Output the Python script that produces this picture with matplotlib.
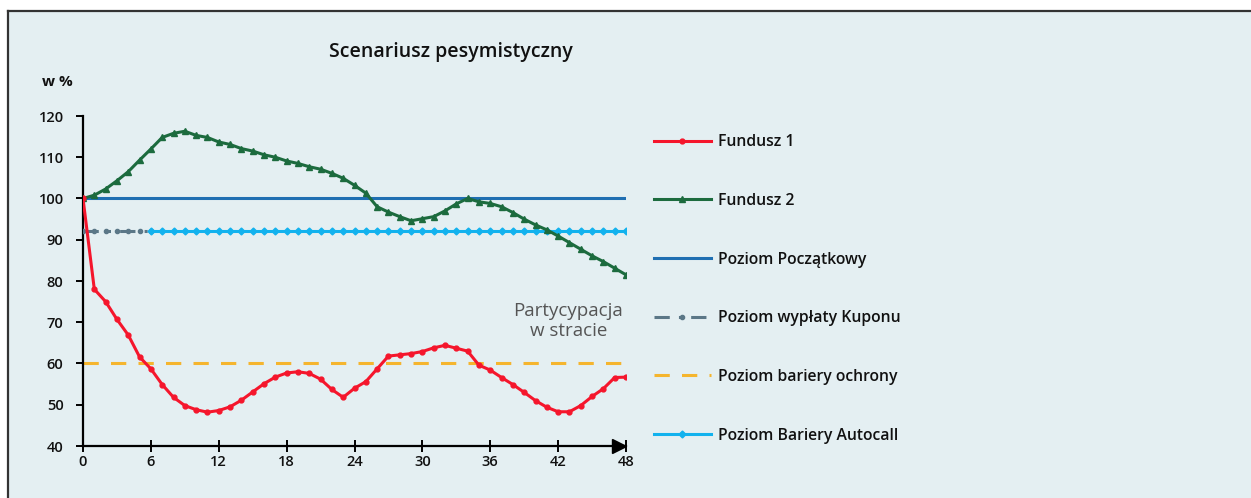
import numpy as np
import matplotlib.pyplot as plt
from matplotlib.lines import Line2D
from matplotlib.patches import Rectangle

plt.rcParams["font.family"] = ["Open Sans", "DejaVu Sans"]

# months since start
months = np.arange(0, 49)

# scenario values (in %)
fundusz_1 = [
    100, 78, 75, 70.7, 66.9, 61.6, 58.7, 54.9, 51.8, 49.8, 48.8, 48.2, 48.6,
    49.5, 51.1, 53.1, 55.1, 56.7, 57.7, 58.0, 57.6, 56.2, 53.7, 51.8, 54.0,
    55.6, 58.7, 61.8, 62.1, 62.4, 62.9, 63.8, 64.4, 63.7, 63.0, 59.6, 58.4,
    56.6, 54.9, 53.0, 51.0, 49.4, 48.3, 48.3, 49.8, 52.0, 53.9, 56.6, 56.7,
]
fundusz_2 = [
    100, 100.8, 102.3, 104.3, 106.5, 109.3, 112.0, 114.8, 115.8, 116.3, 115.3,
    114.8, 113.7, 113.1, 112.1, 111.5, 110.6, 110.0, 109.1, 108.5, 107.7,
    107.1, 106.1, 104.9, 103.2, 101.3, 98.0, 96.7, 95.6, 94.6, 95.1, 95.6,
    97.0, 98.7, 100.0, 99.2, 98.8, 98.0, 96.6, 95.0, 93.6, 92.4, 90.9, 89.3,
    87.7, 86.1, 84.7, 83.1, 81.5,
]
poziom_poczatkowy = 100
poziom_kuponu = 92
poziom_ochrony = 60
poziom_autocall = 92
kupon_months = months[months <= 6]
autocall_months = months[months >= 6]

labels = [
    "Fundusz 1",
    "Fundusz 2",
    "Poziom Początkowy",
    "Poziom wypłaty Kuponu",
    "Poziom bariery ochrony",
    "Poziom Bariery Autocall",
]

bg = "#e4eff2"

fig = plt.figure(figsize=(12.51, 4.98), dpi=100)
fig.patch.set_facecolor("white")

# light panel with a dark frame on top and left
fx0, fy1 = 8 / 1251, 1 - 11 / 498
fig.patches.append(
    Rectangle((fx0, 0), 1 - fx0, fy1, transform=fig.transFigure,
              facecolor=bg, edgecolor="none", zorder=-10)
)
fig.lines.append(Line2D([fx0, 1], [fy1, fy1], transform=fig.transFigure,
                        color="#333333", linewidth=1.6))
fig.lines.append(Line2D([fx0, fx0], [0, fy1], transform=fig.transFigure,
                        color="#333333", linewidth=1.6))

ax = fig.add_axes([83 / 1251, 1 - 446 / 498, 543 / 1251, 330 / 498])
ax.set_facecolor("none")

ax.plot(months, [poziom_poczatkowy] * len(months), color="#1f6fb2",
        linewidth=2.2, zorder=2, label=labels[2])
ax.plot(months, [poziom_ochrony] * len(months), color="#f5b52e",
        linewidth=2.2, linestyle=(0, (5, 4)), zorder=2, label=labels[4])
ax.plot(kupon_months, [poziom_kuponu] * len(kupon_months), color="#5b7787",
        linewidth=2.2, linestyle=(0, (5, 3, 1, 3)), marker="o", markersize=3,
        zorder=3, label=labels[3])
ax.plot(autocall_months, [poziom_autocall] * len(autocall_months),
        color="#12b2ee", linewidth=2.2, marker="D", markersize=3.5, zorder=3,
        label=labels[5])
ax.plot(months, fundusz_2, color="#1c6b3e", linewidth=2.2, marker="^",
        markersize=4.5, zorder=4, label=labels[1])
ax.plot(months, fundusz_1, color="#f5162c", linewidth=2.2, marker="o",
        markersize=3.5, zorder=5, label=labels[0])

ax.set_xlim(0, 48)
ax.set_ylim(40, 120)
ax.set_xticks(np.arange(0, 49, 6))
ax.set_yticks(np.arange(40, 121, 10))
for s in ("top", "right"):
    ax.spines[s].set_visible(False)
for s in ("left", "bottom"):
    ax.spines[s].set_linewidth(1.6)
    ax.spines[s].set_color("black")
ax.tick_params(axis="y", direction="out", length=5, width=1.4, pad=9,
               labelsize=10.5, labelcolor="#111111")
ax.tick_params(axis="x", direction="inout", length=9, width=1.4, pad=2,
               labelsize=10.5, labelcolor="#111111")
for t in ax.get_xticklabels() + ax.get_yticklabels():
    t.set_fontweight("semibold")

# arrow head at the end of the x axis
ax.plot(47.4, 40, marker=">", markersize=10, color="black", clip_on=False,
        zorder=6)

ax.text(42.9, 70.3, "Partycypacja\nw stracie", ha="center", va="center",
        fontsize=13.5, color="#555555", linespacing=1.1)

fig.text(451 / 1251, 1 - 52 / 498, "Scenariusz pesymistyczny", ha="center",
         va="center", fontsize=14, fontweight="semibold", color="#111111")
fig.text(42 / 1251, 1 - 82 / 498, "w %", ha="left", va="center",
         fontsize=11, fontweight="bold", color="#111111")

handles, hl = ax.get_legend_handles_labels()
order = [hl.index(l) for l in labels]
leg = fig.legend(
    [handles[i] for i in order],
    labels,
    loc="upper left",
    bbox_to_anchor=(640 / 1251, 1 - 120 / 498),
    frameon=False,
    fontsize=11.3,
    labelspacing=2.72,
    handlelength=3.6,
    handletextpad=0.45,
)
for t in leg.get_texts():
    t.set_fontweight("semibold")
    t.set_color("#111111")

fig.savefig("out.png", dpi=100, facecolor=fig.get_facecolor())
